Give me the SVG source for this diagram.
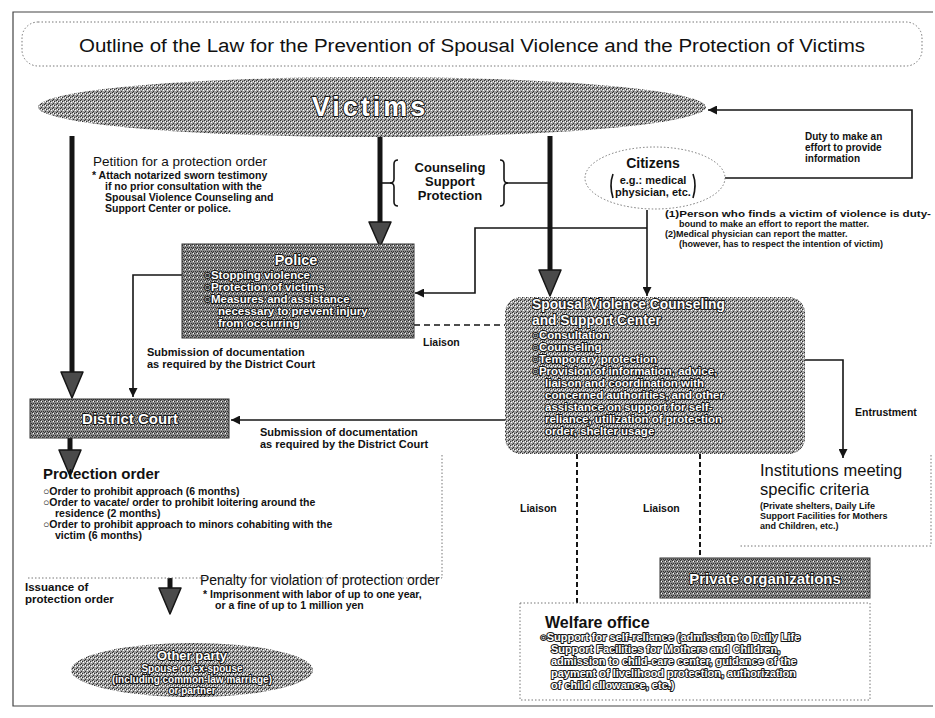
<svg xmlns="http://www.w3.org/2000/svg" width="935" height="718" viewBox="0 0 935 718">
<defs>
<style>
.t{font-family:"Liberation Sans",Arial,sans-serif;fill:#111}
.b{font-weight:bold}
.ol{font-family:"Liberation Sans",Arial,sans-serif;font-weight:bold;fill:#fff;stroke:#151515;stroke-width:2;paint-order:stroke;stroke-linejoin:round}
.ln{stroke:#151515;stroke-width:1.6;fill:none}
.thick{stroke:#151515;stroke-width:5;fill:none}
.dash{stroke:#151515;stroke-width:1.6;stroke-dasharray:6 4;fill:none}
.vdash{stroke:#151515;stroke-width:2;stroke-dasharray:5 3;fill:none}
.dot{stroke:#777;stroke-width:1;stroke-dasharray:1.5 2;fill:none}
.head{fill:#4a4a4a;stroke:#151515;stroke-width:1.5;stroke-linejoin:round}
</style>
<pattern id="ht" width="4" height="4" patternUnits="userSpaceOnUse">
<rect width="4" height="4" fill="#a0a0a0"/>
<rect x="0" y="0" width="1" height="1" fill="#303030"/>
<rect x="2" y="1" width="1" height="1" fill="#303030"/>
<rect x="1" y="3" width="1" height="1" fill="#303030"/>
<rect x="3" y="2" width="1" height="1" fill="#ffffff"/>
<rect x="1" y="1" width="1" height="1" fill="#ffffff"/>
</pattern>
<pattern id="htd" width="4" height="4" patternUnits="userSpaceOnUse">
<rect width="4" height="4" fill="#8a8a8a"/>
<rect x="0" y="0" width="1" height="1" fill="#303030"/>
<rect x="2" y="1" width="1" height="1" fill="#303030"/>
<rect x="1" y="3" width="1" height="1" fill="#303030"/>
<rect x="3" y="3" width="1" height="1" fill="#303030"/>
<rect x="1" y="1" width="1" height="1" fill="#ffffff"/>
</pattern>
<pattern id="htl" width="4" height="4" patternUnits="userSpaceOnUse">
<rect width="4" height="4" fill="#c4c4c4"/>
<rect x="0" y="0" width="1" height="1" fill="#303030"/>
<rect x="2" y="2" width="1" height="1" fill="#303030"/>
<rect x="3" y="1" width="1" height="1" fill="#ffffff"/>
</pattern>
<pattern id="stip" width="5" height="5" patternUnits="userSpaceOnUse">
<rect width="5" height="5" fill="#f4f4f4"/>
<rect x="1" y="1" width="1" height="1" fill="#999"/>
<rect x="3" y="4" width="1" height="1" fill="#bbb"/>
</pattern>
<marker id="ah" viewBox="0 0 10 10" refX="10" refY="5" markerWidth="9" markerHeight="9" markerUnits="userSpaceOnUse" orient="auto">
<path d="M0,0 L10,5 L0,10 z" fill="#151515"/>
</marker>
</defs>

<rect width="935" height="718" fill="#ffffff"/>

<!-- outer frame -->
<path d="M933,12 H13 V706 H933" stroke="#444" stroke-width="1.2" fill="none"/>

<g id="title">
<rect x="22" y="22" width="900" height="44" rx="16" class="dot"/>
<text class="t" x="472" y="52" font-size="18" text-anchor="middle" textLength="786" lengthAdjust="spacingAndGlyphs">Outline of the Law for the Prevention of Spousal Violence and the Protection of Victims</text>
</g>

<g id="connectors">
<line class="thick" x1="72" y1="136" x2="72" y2="374"/>
<polygon class="head" points="61,372 83,372 72,398"/>
<line class="thick" x1="380" y1="137" x2="380" y2="224"/>
<polygon class="head" points="369,222 391,222 380,247"/>
<line class="thick" x1="550" y1="136" x2="550" y2="272"/>
<polygon class="head" points="539,270 561,270 550,296"/>
<line class="thick" x1="70" y1="438" x2="70" y2="452"/>
<polygon class="head" points="59,450 81,450 70,476"/>
<line class="thick" x1="170" y1="578" x2="170" y2="590"/>
<polygon class="head" points="159,588 181,588 170,614"/>
<line class="ln" x1="380" y1="183" x2="393" y2="183"/>
<line class="ln" x1="506" y1="183" x2="550" y2="183"/>
<path class="ln" d="M725,178 H912 V110 H708" marker-end="url(#ah)"/>
<line class="ln" x1="647" y1="210" x2="647" y2="296" marker-end="url(#ah)"/>
<path class="ln" d="M647,228 H475 V293 H415" marker-end="url(#ah)"/>
<path class="ln" d="M182,275 H133 V397" marker-end="url(#ah)"/>
<line class="dash" x1="414" y1="325" x2="505" y2="325"/>
<line class="ln" x1="505" y1="420" x2="231" y2="420" marker-end="url(#ah)"/>
<path class="ln" d="M684,360 H843 V458" marker-end="url(#ah)"/>
<line class="vdash" x1="577" y1="454" x2="577" y2="603"/>
<line class="vdash" x1="700" y1="454" x2="700" y2="558"/>
</g>

<g id="victims">
<ellipse cx="372" cy="107" rx="334" ry="30" fill="url(#ht)"/>
<text class="ol" x="370" y="116" font-size="27" text-anchor="middle" letter-spacing="3">Victims</text>
</g>

<g id="petition-label">
<text class="t" x="93" y="166" font-size="13.5">Petition for a protection order</text>
<text class="t b" x="92" y="179" font-size="10.5">* Attach notarized sworn testimony</text>
<text class="t b" x="105" y="190" font-size="10.5">if no prior consultation with the</text>
<text class="t b" x="105" y="201" font-size="10.5">Spousal Violence Counseling and</text>
<text class="t b" x="105" y="212" font-size="10.5">Support Center or police.</text>
</g>

<g id="counseling-label">
<path class="ln" stroke-width="1.3" d="M398,160 q-4,0 -4,4 v15 q0,4 -4,4 q4,0 4,4 v15 q0,4 4,4"/>
<path class="ln" stroke-width="1.3" d="M500,160 q4,0 4,4 v15 q0,4 4,4 q-4,0 -4,4 v15 q0,4 -4,4"/>
<text class="t b" x="450" y="172" font-size="13" text-anchor="middle">Counseling</text>
<text class="t b" x="450" y="186" font-size="13" text-anchor="middle">Support</text>
<text class="t b" x="450" y="200" font-size="13" text-anchor="middle">Protection</text>
</g>

<g id="citizens">
<ellipse cx="655" cy="178" rx="70" ry="31" fill="url(#stip)" class="dot"/>
<text class="t b" x="653" y="168" font-size="14" text-anchor="middle">Citizens</text>
<path class="ln" stroke-width="1.3" d="M613,174 q-4,11 0,24"/>
<path class="ln" stroke-width="1.3" d="M693,174 q4,11 0,24"/>
<text class="t b" x="653" y="184" font-size="11" text-anchor="middle">e.g.: medical</text>
<text class="t b" x="653" y="196" font-size="11" text-anchor="middle">physician, etc.</text>
</g>

<g id="duty-label">
<text class="t b" x="805" y="140" font-size="10">Duty to make an</text>
<text class="t b" x="805" y="151" font-size="10">effort to provide</text>
<text class="t b" x="805" y="162" font-size="10">information</text>
</g>

<g id="citizen-notes">
<text class="t b" x="665" y="217" font-size="9" textLength="266" lengthAdjust="spacingAndGlyphs">(1)Person who finds a victim of violence is duty-</text>
<text class="t b" x="679" y="227" font-size="9">bound to make an effort to report the matter.</text>
<text class="t b" x="665" y="237" font-size="9">(2)Medical physician can report the matter.</text>
<text class="t b" x="679" y="247" font-size="9">(however, has to respect the intention of victim)</text>
</g>

<g id="police">
<rect x="182" y="244" width="232" height="94" fill="url(#htd)" stroke="#333"/>
<text class="ol" x="296" y="265" font-size="14.5" text-anchor="middle">Police</text>
<text class="ol" x="204" y="279" font-size="11.5">○Stopping violence</text>
<text class="ol" x="204" y="291" font-size="11.5">○Protection of victims</text>
<text class="ol" x="204" y="303" font-size="11.5">○Measures and assistance</text>
<text class="ol" x="218" y="315" font-size="11.5">necessary to prevent injury</text>
<text class="ol" x="218" y="327" font-size="11.5">from occurring</text>
</g>

<g id="labels-left">
<text class="t b" x="147" y="356" font-size="11">Submission of documentation</text>
<text class="t b" x="147" y="368" font-size="11">as required by the District Court</text>
<text class="t b" x="423" y="346" font-size="10.5">Liaison</text>
<text class="t b" x="260" y="436" font-size="11">Submission of documentation</text>
<text class="t b" x="260" y="448" font-size="11">as required by the District Court</text>
</g>

<g id="district-court">
<rect x="30" y="399" width="199" height="39" fill="url(#htd)" stroke="#333"/>
<text class="ol" x="130" y="424" font-size="15" text-anchor="middle">District Court</text>
</g>

<g id="center">
<rect x="505" y="297" width="300" height="157" rx="16" fill="url(#ht)"/>
<text class="ol" x="532" y="309" font-size="13.8">Spousal Violence Counseling</text>
<text class="ol" x="532" y="325" font-size="13.8">and Support Center</text>
<text class="ol" x="532" y="339" font-size="11.5">○Consultation</text>
<text class="ol" x="532" y="351" font-size="11.5">○Counseling</text>
<text class="ol" x="532" y="363" font-size="11.5">○Temporary protection</text>
<text class="ol" x="532" y="375" font-size="11.5">○Provision of information, advice,</text>
<text class="ol" x="545" y="387" font-size="11.5">liaison and coordination with</text>
<text class="ol" x="545" y="399" font-size="11.5">concerned authorities, and other</text>
<text class="ol" x="545" y="411" font-size="11.5">assistance on support for self-</text>
<text class="ol" x="545" y="423" font-size="11.5">reliance, utilization of protection</text>
<text class="ol" x="545" y="435" font-size="11.5">order, shelter usage</text>
</g>

<g id="entrustment-label">
<text class="t b" x="855" y="416" font-size="10.5">Entrustment</text>
</g>

<g id="institutions">
<path class="dot" d="M931,455 V546 H740"/>
<text class="t" x="760" y="476" font-size="16.5">Institutions meeting</text>
<text class="t" x="760" y="495" font-size="16.5">specific criteria</text>
<text class="t b" x="760" y="509" font-size="9">(Private shelters, Daily Life</text>
<text class="t b" x="760" y="519" font-size="9">Support Facilities for Mothers</text>
<text class="t b" x="760" y="529" font-size="9">and Children, etc.)</text>
</g>

<g id="liaison-labels">
<text class="t b" x="520" y="512" font-size="10.5">Liaison</text>
<text class="t b" x="643" y="512" font-size="10.5">Liaison</text>
</g>

<g id="private-organizations">
<rect x="660" y="558" width="210" height="40" fill="url(#htd)" stroke="#333"/>
<text class="ol" x="765" y="584" font-size="15" text-anchor="middle">Private organizations</text>
</g>

<g id="welfare-office">
<rect x="520" y="603" width="350" height="97" fill="url(#htl)" class="dot"/>
<text class="t b" x="545" y="628" font-size="16">Welfare office</text>
<text class="ol" x="540" y="641" font-size="11">○Support for self-reliance (admission to Daily Life</text>
<text class="ol" x="551" y="653" font-size="11">Support Facilities for Mothers and Children,</text>
<text class="ol" x="551" y="665" font-size="11">admission to child-care center, guidance of the</text>
<text class="ol" x="551" y="677" font-size="11">payment of livelihood protection, authorization</text>
<text class="ol" x="551" y="689" font-size="11">of child allowance, etc.)</text>
</g>

<g id="protection-order">
<path class="dot" d="M442,455 V578 H27"/>
<text class="t b" x="43" y="479" font-size="15">Protection order</text>
<text class="t b" x="43" y="495" font-size="10.5">○Order to prohibit approach (6 months)</text>
<text class="t b" x="43" y="506" font-size="10.5">○Order to vacate/ order to prohibit loitering around the</text>
<text class="t b" x="55" y="517" font-size="10.5">residence (2 months)</text>
<text class="t b" x="43" y="528" font-size="10.5">○Order to prohibit approach to minors cohabiting with the</text>
<text class="t b" x="55" y="539" font-size="10.5">victim (6 months)</text>
</g>

<g id="issuance-label">
<text class="t b" x="25" y="591" font-size="11.5">Issuance of</text>
<text class="t b" x="25" y="603" font-size="11.5">protection order</text>
</g>

<g id="penalty-label">
<text class="t" x="200" y="585" font-size="14">Penalty for violation of protection order</text>
<text class="t b" x="203" y="598" font-size="10.5">* Imprisonment with labor of up to one year,</text>
<text class="t b" x="215" y="609" font-size="10.5">or a fine of up to 1 million yen</text>
</g>

<g id="other-party">
<ellipse cx="192" cy="670" rx="121" ry="27" fill="url(#ht)"/>
<text class="ol" x="192" y="660" font-size="13" text-anchor="middle">Other party</text>
<text class="ol" x="192" y="672" font-size="10" text-anchor="middle">Spouse or ex-spouse</text>
<text class="ol" x="192" y="683" font-size="10" text-anchor="middle">(including common-law marriage)</text>
<text class="ol" x="192" y="694" font-size="10" text-anchor="middle">or partner</text>
</g>
</svg>
